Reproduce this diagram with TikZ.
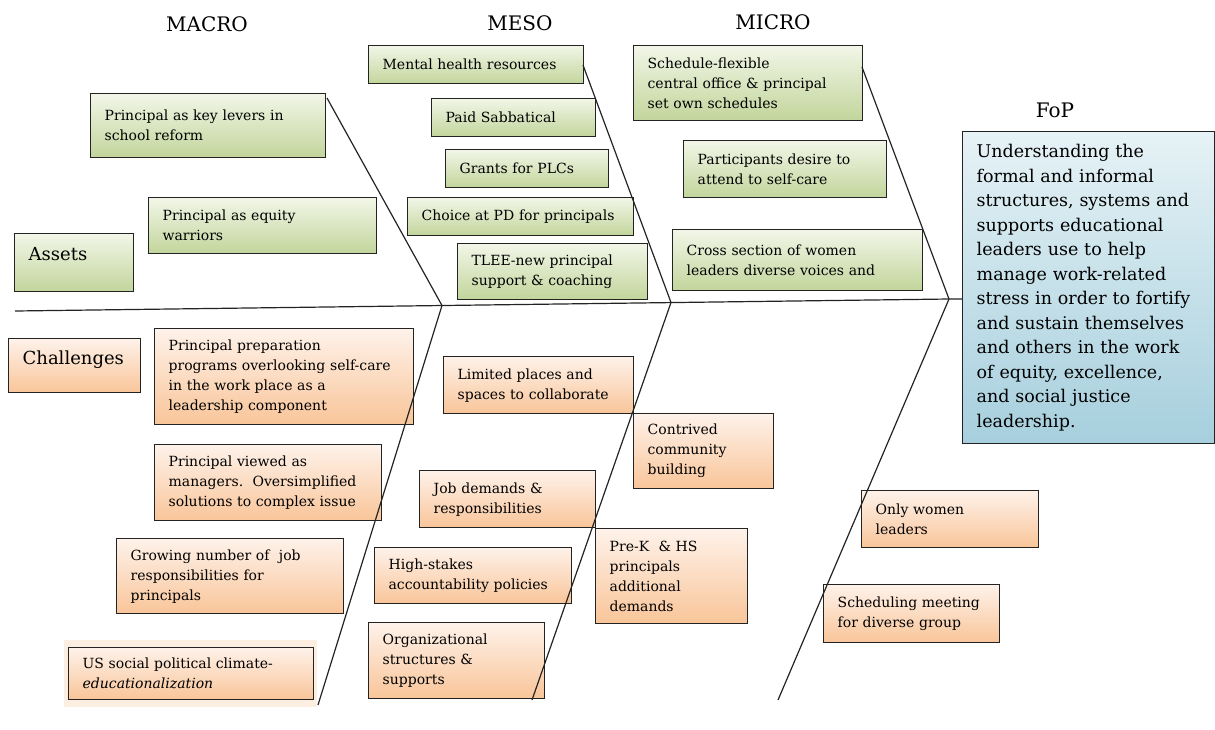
\documentclass[tikz,border=0pt]{standalone}
\usepackage{fontspec}
\setmainfont{DejaVu Serif}
\definecolor{gtop}{RGB}{242,246,232}
\definecolor{gbot}{RGB}{194,213,155}
\definecolor{otop}{RGB}{254,242,234}
\definecolor{obot}{RGB}{249,197,153}
\definecolor{btop}{RGB}{230,242,246}
\definecolor{bbot}{RGB}{166,207,221}
\definecolor{glow}{RGB}{253,238,226}
\definecolor{ink}{RGB}{35,35,35}
\begin{document}
\begin{tikzpicture}[x=1pt,y=-1pt,
  box/.style={draw=ink, line width=1.3pt, anchor=north west, align=left,
    inner xsep=14pt, inner ysep=2pt, text=black,
    font=\fontsize{14}{20}\selectfont},
  gbox/.style={box, top color=gtop, bottom color=gbot},
  obox/.style={box, top color=otop, bottom color=obot},
  sz/.code 2 args={\pgfmathsetmacro\boxtw{#1-28}%
    \pgfkeysalso{minimum width=#1pt, minimum height=#2pt, text width=\boxtw pt}},
  bone/.style={draw=ink, line width=1.2pt},
  head/.style={font=\fontsize{20}{24}\selectfont, inner sep=0pt}]
\useasboundingbox (0,0) rectangle (1215,729);

% column headings
\node[head] (hmacro) at (207,24) {MACRO};
\node[head] (hmeso)  at (520,23) {MESO};
\node[head] (hmicro) at (773,22) {MICRO};
\node[head] (hfop)   at (1055,110) {FoP};

% faint backdrop behind the last macro challenge
\fill[glow] (64,640) rectangle (317,707);

% assets (green)
\node[gbox, sz={235}{64}] (keylev) at (90,93) {Principal as key levers in\\school reform};
\node[gbox, sz={228}{56}] (equity) at (148,197) {Principal as equity\\warriors};
\node[gbox, sz={119}{58}, font=\fontsize{18}{22}\selectfont] (assets) at (14,233)
  {\raisebox{7pt}[0.75em][0.25em]{Assets}};
\node[gbox, sz={215}{38}] (mental) at (368,45) {Mental health resources};
\node[gbox, sz={164}{38}] (sabb) at (431,98) {Paid Sabbatical};
\node[gbox, sz={163}{38}] (plc) at (445,149) {Grants for PLCs};
\node[gbox, sz={226}{38}] (choice) at (407,197) {Choice at PD for principals};
\node[gbox, sz={190}{56}] (tlee) at (457,243) {TLEE-new principal\\support \& coaching};
\node[gbox, sz={229}{75}] (sched) at (633,45) {Schedule-flexible\\central office \& principal\\set own schedules};
\node[gbox, sz={203}{57}] (partic) at (683,140) {Participants desire to\\attend to self-care};
\node[gbox, sz={250}{61}] (cross) at (672,229) {Cross section of women\\leaders diverse voices and};

% challenges (orange)
\node[obox, sz={132}{54}, font=\fontsize{18}{22}\selectfont] (chall) at (8,338)
  {\raisebox{6pt}[0.75em][0.25em]{Challenges}};
\node[obox, sz={259}{96}] (prep) at (154,328) {Principal preparation\\programs overlooking self-care\\in the work place as a\\leadership component};
\node[obox, sz={227}{76}] (viewed) at (154,444) {Principal viewed as\\managers.\ \ Oversimplified\\solutions to complex issue};
\node[obox, sz={227}{75}] (growing) at (116,538) {Growing number of\ \ job\\responsibilities for\\principals};
\node[obox, sz={245}{52}] (usclim) at (68,647) {US social political climate-\\\textit{educationalization}};
\node[obox, sz={190}{57}] (limited) at (443,356) {Limited places and\\spaces to collaborate};
\node[obox, sz={140}{75}] (contr) at (633,413) {Contrived\\community\\building};
\node[obox, sz={176}{57}] (jobd) at (419,470) {Job demands \&\\responsibilities};
\node[obox, sz={152}{95}] (prek) at (595,528) {Pre-K\ \ \& HS\\principals\\additional\\demands};
\node[obox, sz={197}{56}] (high) at (374,547) {High-stakes\\accountability policies};
\node[obox, sz={176}{76}] (org) at (368,622) {Organizational\\structures \&\\supports};
\node[obox, sz={177}{57}] (women) at (861,490) {Only women\\leaders};
\node[obox, sz={176}{58}] (schedm) at (823,584) {Scheduling meeting\\for diverse group};

% focus of practice
\node[box, top color=btop, bottom color=bbot, sz={252}{312}, inner xsep=12pt,
      font=\fontsize{17.5}{24.5}\selectfont] (fop) at (962,131)
  {Understanding the\\formal and informal\\structures, systems and\\supports educational\\leaders use to help\\manage work-related\\stress in order to fortify\\and sustain themselves\\and others in the work\\of equity, excellence,\\and social justice\\leadership.};

% spine and bones
\coordinate (s0) at (15,311);
\coordinate (j1) at (442,305.5);
\coordinate (j2) at (671,302.5);
\coordinate (j3) at (949,299);
\coordinate (t1) at (327,98);
\coordinate (t2) at (583,65);
\coordinate (t3) at (862,67);
\coordinate (b1) at (318,705);
\coordinate (b2) at (532,700);
\coordinate (b3) at (778,700);
\draw[bone] (s0) -- (j3) -- (j3 -| fop.west);
\draw[bone] (t1) -- (j1) -- (b1);
\draw[bone] (t2) -- (j2) -- (b2);
\draw[bone] (t3) -- (j3) -- (b3);
\end{tikzpicture}
\end{document}
